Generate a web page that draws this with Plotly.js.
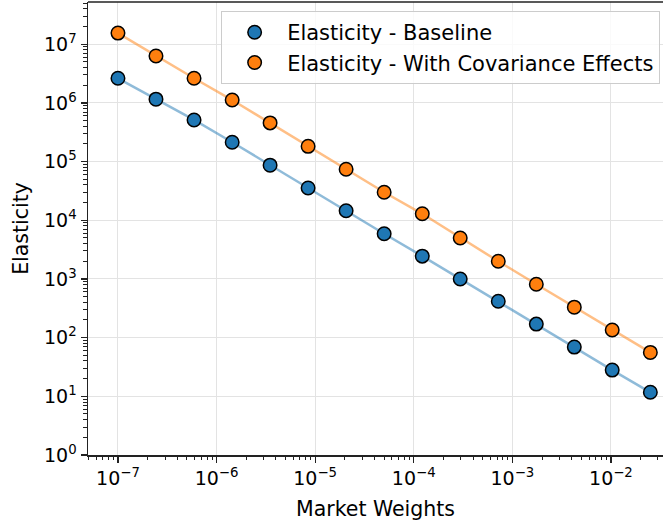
<!DOCTYPE html>
<html>
<head>
<meta charset="utf-8">
<script src="https://cdn.plot.ly/plotly-3.0.1.min.js"></script>
<style>html,body{margin:0;padding:0;background:#fff;}#chart{width:663px;height:525px;}</style>
</head>
<body>
<div id="chart"></div>
<script>
var marketWeights = [1e-7, 2.43e-7, 5.91e-7, 1.44e-6, 3.49e-6, 8.48e-6, 2.06e-5, 5.01e-5, 1.22e-4, 2.96e-4, 7.2e-4, 1.75e-3, 4.25e-3, 1.03e-2, 2.51e-2];
var elasticityBaseline = [2.63e6, 1.16e6, 5.13e5, 2.14e5, 8.7e4, 3.55e4, 1.45e4, 5.9e3, 2.45e3, 1000, 417, 170, 69, 28, 11.7];
var elasticityCovariance = [1.55e7, 6.3e6, 2.63e6, 1.12e6, 4.57e5, 1.82e5, 7.4e4, 3.0e4, 1.29e4, 5.0e3, 2.0e3, 813, 331, 135, 56];
var seriesNames = ['Elasticity - Baseline', 'Elasticity - With Covariance Effects'];
var xExponents = [-7, -6, -5, -4, -3, -2];
var yExponents = [0, 1, 2, 3, 4, 5, 6, 7];

var blue = '#1f77b4', orange = '#ff7f0e';
function sup(p){ return '10<sup>' + (p < 0 ? '\u2212' : '') + Math.abs(p) + '</sup>'; }
function minorVals(lo, hi){ var v=[]; for(var d=lo; d<=hi; d++){ for(var k=2;k<=9;k++){ v.push(k*Math.pow(10,d)); } } return v; }

var traces = [
  {x: marketWeights, y: elasticityBaseline, mode:'lines', line:{color:blue, width:2.5}, opacity:0.5, showlegend:false, hoverinfo:'skip'},
  {x: marketWeights, y: elasticityCovariance, mode:'lines', line:{color:orange, width:2.5}, opacity:0.5, showlegend:false, hoverinfo:'skip'},
  {x: marketWeights, y: elasticityBaseline, mode:'markers', name: seriesNames[0], legendgroup:'a',
   marker:{color:blue, size:13.5, line:{color:'#000', width:1.5}}},
  {x: marketWeights, y: elasticityCovariance, mode:'markers', name: seriesNames[1], legendgroup:'b',
   marker:{color:orange, size:13.5, line:{color:'#000', width:1.5}}}
];

var axisFont = {family:'DejaVu Sans', size:19, color:'#000'};
var layout = {
  width:663, height:525,
  margin:{l:88, r:0, t:2, b:70},
  paper_bgcolor:'#fff', plot_bgcolor:'#fff',
  font:{family:'DejaVu Sans', size:19, color:'#000'},
  xaxis:{
    type:'log', range:[-7.304, -1.472],
    tickmode:'array', tickvals: xExponents.map(function(p){return Math.pow(10,p);}), ticktext: xExponents.map(sup),
    ticks:'outside', ticklen:6, tickwidth:1.3, tickcolor:'#222',
    showline:true, linecolor:'#222', linewidth:1.5, zeroline:false,
    showgrid:true, gridcolor:'#e3e3e3', gridwidth:1,
    tickfont:axisFont,
    minor:{tickmode:'array', tickvals: minorVals(-8,-1), ticks:'outside', ticklen:3.5, tickwidth:1, tickcolor:'#222', showgrid:false},
    title:{text:'Market Weights', font:{family:'DejaVu Sans', size:20.5, color:'#000'}, standoff:13}
  },
  yaxis:{
    type:'log', range:[0, 7.72],
    tickmode:'array', tickvals: yExponents.map(function(p){return Math.pow(10,p);}), ticktext: yExponents.map(sup),
    ticks:'outside', ticklen:6, tickwidth:1.3, tickcolor:'#222',
    showline:true, linecolor:'#222', linewidth:1.5, zeroline:false,
    showgrid:true, gridcolor:'#e3e3e3', gridwidth:1,
    tickfont:axisFont,
    minor:{tickmode:'array', tickvals: minorVals(0,7), ticks:'outside', ticklen:3.5, tickwidth:1, tickcolor:'#222', showgrid:false},
    title:{text:'Elasticity', font:{family:'DejaVu Sans', size:20.5, color:'#000'}, standoff:10}
  },
  shapes:[{type:'line', xref:'paper', yref:'paper', x0:0, x1:1, y0:1, y1:1, line:{color:'#222', width:1.5}}],
  legend:{x:0.995, y:0.98, xanchor:'right', yanchor:'top', bgcolor:'rgba(255,255,255,0.8)', bordercolor:'#cccccc', borderwidth:1,
    font:{family:'DejaVu Sans', size:21, color:'#000'}, tracegroupgap:0, itemwidth:55},
  showlegend:true
};
Plotly.newPlot('chart', traces, layout, {staticPlot:true, displayModeBar:false});
</script>
</body>
</html>
